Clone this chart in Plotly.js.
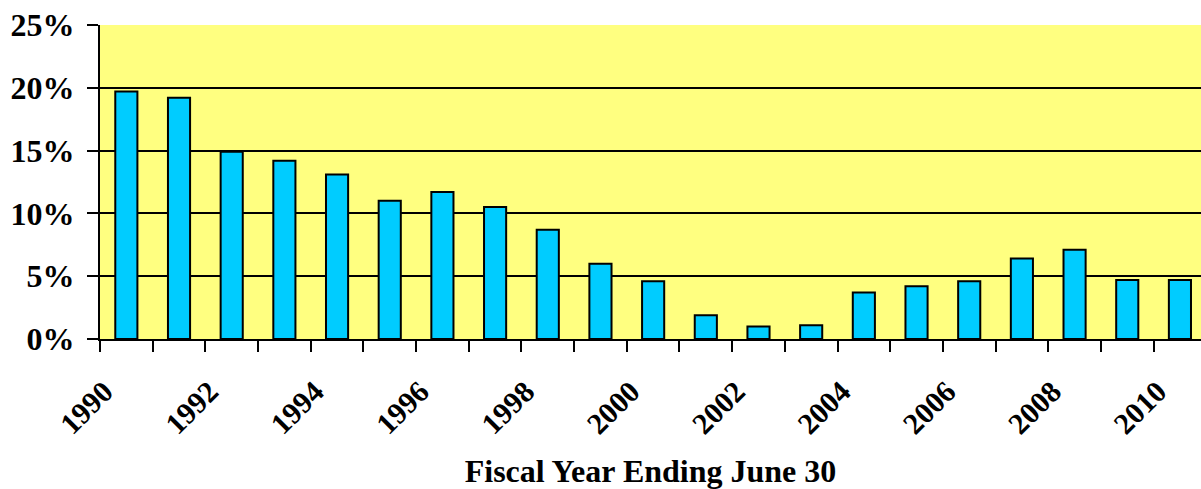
<!DOCTYPE html>
<html>
<head>
<meta charset="utf-8">
<script src="https://cdn.plot.ly/plotly-3.0.1.min.js"></script>
<style>
html,body{margin:0;padding:0;overflow:hidden;background:#fff;}
#chart{width:1201px;height:489px;}
</style>
</head>
<body>
<div id="chart"></div>
<script>
// Fiscal years (ending June 30)
const years = [1990,1991,1992,1993,1994,1995,1996,1997,1998,1999,2000,2001,2002,2003,2004,2005,2006,2007,2008,2009,2010];
// Percent values
const values = [19.7,19.2,14.9,14.2,13.1,11.0,11.7,10.5,8.7,6.0,4.6,1.9,1.0,1.1,3.7,4.2,4.6,6.4,7.1,4.7,4.7];
// Labelled ticks (every other year)
const labelYears = [1990,1992,1994,1996,1998,2000,2002,2004,2006,2008,2010];
const labelText = labelYears.map(String);
const yTicks = [0,5,10,15,20,25];
const yTickText = yTicks.map(v => v + '%');

const FONT = 'Liberation Serif, Times New Roman, serif';
// rotated labels end slightly left of the bar centre, as in the original
const LABEL_SHIFT = -0.42;

const trace = {
  type: 'bar',
  x: years,
  y: values,
  width: 0.42,
  marker: {color: '#00CCFF', line: {color: '#000000', width: 2}},
  hoverinfo: 'x+y'
};

const layout = {
  width: 1201,
  height: 489,
  margin: {l: 100, r: 0, t: 25, b: 150},
  paper_bgcolor: '#ffffff',
  plot_bgcolor: '#FFFF80',
  showlegend: false,
  xaxis: {
    type: 'linear',
    range: [1989.5, 2010.4],
    tickvals: labelYears.map(v => v + LABEL_SHIFT),
    ticktext: labelText,
    tickangle: -45,
    ticks: '',
    ticklabelstandoff: 21,
    tickfont: {family: FONT, size: 30, color: '#000', weight: 'bold'},
    showgrid: false,
    zeroline: false,
    showline: true,
    linecolor: '#000',
    linewidth: 2,
    minor: {tick0: 1989.5, dtick: 1, ticks: 'outside', ticklen: 11, tickwidth: 2, tickcolor: '#000', showgrid: false},
    title: {text: 'Fiscal Year Ending June 30', font: {family: FONT, size: 32, color: '#000', weight: 'bold'}, standoff: 25},
    automargin: false,
    fixedrange: true
  },
  yaxis: {
    range: [0, 25],
    tickvals: yTicks,
    ticktext: yTickText,
    tickfont: {family: FONT, size: 32, color: '#000', weight: 'bold'},
    ticks: 'outside',
    ticklen: 11,
    tickwidth: 2,
    tickcolor: '#000',
    ticklabelstandoff: 6,
    showgrid: true,
    gridcolor: '#000',
    gridwidth: 2,
    zeroline: false,
    showline: true,
    linecolor: '#000',
    linewidth: 2,
    automargin: false,
    fixedrange: true
  }
};

Plotly.newPlot('chart', [trace], layout, {displayModeBar: false, staticPlot: true});
</script>
</body>
</html>
